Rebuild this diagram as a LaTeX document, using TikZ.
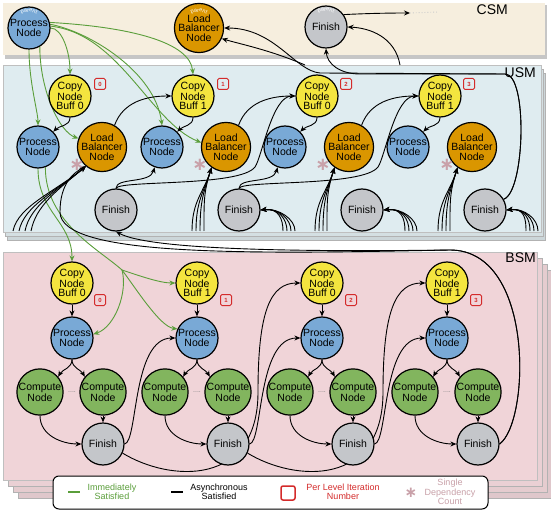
\documentclass[tikz,border=0pt]{standalone}
\usepackage{fontspec}
\setmainfont{Liberation Sans}
\newfontfamily\symbfont{DejaVu Sans}
\usetikzlibrary{positioning,arrows.meta,decorations.text,backgrounds}

\definecolor{procBlue}{HTML}{79A9D6}
\definecolor{lbOrange}{HTML}{DA9600}
\definecolor{copyYellow}{HTML}{F4E53F}
\definecolor{compGreen}{HTML}{82B55E}
\definecolor{finGray}{HTML}{C4C6CA}
\definecolor{csmBg}{HTML}{F6EEDE}
\definecolor{usmBg}{HTML}{DFECF0}
\definecolor{bsmBg}{HTML}{F0D4D8}
\definecolor{lineGreen}{HTML}{5A9E3A}
\definecolor{iterRed}{HTML}{D42B2B}
\definecolor{starPink}{HTML}{C9A1A9}

\newcommand{\depmark}{{\symbfont\bfseries ∗}}

\pgfdeclarelayer{edgelayer}
\pgfsetlayers{background,edgelayer,main}

\begin{document}
\begin{tikzpicture}[
    x=1pt, y=1pt,
    every node/.style={font=\fontsize{10.5}{9.3}\selectfont},
    circ/.style={%
      draw,
      circle,
      line width=1.2pt,
      minimum size=42pt,
      inner sep=0pt,
      align=center,
    },
    proc/.style={circ, fill=procBlue},
    lbal/.style={circ, fill=lbOrange},
    copyb/.style={circ, fill=copyYellow},
    comp/.style={circ, fill=compGreen},
    fin/.style={circ, fill=finGray},
    iter/.style={%
      draw=iterRed,
      text=iterRed,
      line width=1pt,
      rounded corners=1.5pt,
      minimum size=11pt,
      inner sep=0pt,
      font=\fontsize{6}{6}\selectfont\bfseries,
    },
    depstar/.style={text=starPink, inner sep=0pt, font=\fontsize{18}{18}\selectfont},
    cdots/.style={text=gray, inner sep=0pt, font=\fontsize{7}{7}\selectfont},
    band/.style={font=\fontsize{14}{14}\selectfont, anchor=north east, inner sep=0pt},
    legtext/.style={align=center, font=\fontsize{9}{9.5}\selectfont},
    async/.style={draw, line width=0.9pt, -{Stealth[length=6pt,width=5pt]}},
    imm/.style={async, draw=lineGreen},
  ]

    \useasboundingbox (0,0) rectangle (551,512);

    % bands
    \begin{scope}[on background layer]
      \fill [gray!45] (5,453) rectangle (547,507);
      \fill [csmBg] (3,457) rectangle (545,509);
      \filldraw [fill=usmBg!80!gray, draw=gray!60] (7,272) rectangle (545,439);
      \filldraw [fill=usmBg!88!gray, draw=gray!60] (5,276) rectangle (543,443);
      \filldraw [fill=usmBg, draw=gray!50] (3,280) rectangle (541,447);
      \filldraw [fill=bsmBg!85!gray, draw=gray!60] (18,14) rectangle (552,242);
      \filldraw [fill=bsmBg!90!gray, draw=gray!60] (13,20) rectangle (547,248);
      \filldraw [fill=bsmBg!95!gray, draw=gray!60] (8,26) rectangle (542,254);
      \filldraw [fill=bsmBg, draw=gray!50] (3,32) rectangle (537,260);
    \end{scope}

    \node [band] (csmL) at (508,507) {CSM};
    \node [band] (usmL) at (536,444) {USM};
    \node [band] (bsmL) at (536,259) {BSM};

    % CSM
    \node [proc] (cP) at (29,484) {Process\\Node};
    \node [lbal] (cL) at (199,484) {Load\\Balancer\\Node};
    \node [fin] (cF) at (326,485) {Finish};
    \path [decorate, decoration={text along path, text={|\fontsize{5.5}{5.5}\selectfont|parent}, text color=white, text align=center}] (cP) ++(150:16) arc (150:30:16);
    \path [decorate, decoration={text along path, text={|\fontsize{5.5}{5.5}\selectfont|parent}, text color=white, text align=center}] (cL) ++(150:16) arc (150:30:16);
    \path [decorate, decoration={text along path, text={|\fontsize{5.5}{5.5}\selectfont|parent}, text color=white, text align=center}] (cF) ++(150:16) arc (150:30:16);

    % USM
    \node [copyb] (uC0) at (70,416) {Copy\\Node\\Buff 0};
    \path (uC0) ++(-32,-51) node [proc] (uP0) {Process\\Node};
    \path (uC0) ++(32,-51) node [lbal] (uL0) {Load\\Balancer\\Node};
    \path (uL0) ++(14,-63) node [fin] (uF0) {Finish};
    \node [copyb] (uC1) at (193,416) {Copy\\Node\\Buff 1};
    \path (uC1) ++(-31,-51) node [proc] (uP1) {Process\\Node};
    \path (uC1) ++(33,-51) node [lbal] (uL1) {Load\\Balancer\\Node};
    \path (uL1) ++(13,-63) node [fin] (uF1) {Finish};
    \node [copyb] (uC2) at (317,416) {Copy\\Node\\Buff 0};
    \path (uC2) ++(-32,-51) node [proc] (uP2) {Process\\Node};
    \path (uC2) ++(32,-51) node [lbal] (uL2) {Load\\Balancer\\Node};
    \path (uL2) ++(13,-63) node [fin] (uF2) {Finish};
    \node [copyb] (uC3) at (440,416) {Copy\\Node\\Buff 1};
    \path (uC3) ++(-32,-51) node [proc] (uP3) {Process\\Node};
    \path (uC3) ++(32,-51) node [lbal] (uL3) {Load\\Balancer\\Node};
    \path (uL3) ++(13,-63) node [fin] (uF3) {Finish};

    \node [iter] (n0) at (100,428) {0};
    \node [iter] (n1) at (223,428) {1};
    \node [iter] (n2) at (346,428) {2};
    \node [iter] (n3) at (469,428) {3};
    \node [depstar] (s0) at (77,347) {\depmark};
    \node [depstar] (s1) at (200,347) {\depmark};
    \node [depstar] (s2) at (323,347) {\depmark};
    \node [depstar] (s3) at (447,347) {\depmark};

    % BSM
    \node [copyb] (bC0) at (72,229) {Copy\\Node\\Buff 0};
    \path (bC0) ++(0,-55) node [proc] (bP0) {Process\\Node};
    \path (bP0) ++(-32,-54) node [comp] (bA0) {Compute\\Node};
    \path (bP0) ++(31,-54) node [comp] (bB0) {Compute\\Node};
    \path (bB0) ++(0,-52) node [fin] (bF0) {Finish};
    \node [copyb] (bC1) at (197,229) {Copy\\Node\\Buff 1};
    \path (bC1) ++(0,-55) node [proc] (bP1) {Process\\Node};
    \path (bP1) ++(-32,-54) node [comp] (bA1) {Compute\\Node};
    \path (bP1) ++(31,-54) node [comp] (bB1) {Compute\\Node};
    \path (bB1) ++(0,-52) node [fin] (bF1) {Finish};
    \node [copyb] (bC2) at (322,229) {Copy\\Node\\Buff 0};
    \path (bC2) ++(0,-55) node [proc] (bP2) {Process\\Node};
    \path (bP2) ++(-32,-54) node [comp] (bA2) {Compute\\Node};
    \path (bP2) ++(31,-54) node [comp] (bB2) {Compute\\Node};
    \path (bB2) ++(0,-52) node [fin] (bF2) {Finish};
    \node [copyb] (bC3) at (447,229) {Copy\\Node\\Buff 1};
    \path (bC3) ++(0,-55) node [proc] (bP3) {Process\\Node};
    \path (bP3) ++(-32,-54) node [comp] (bA3) {Compute\\Node};
    \path (bP3) ++(31,-54) node [comp] (bB3) {Compute\\Node};
    \path (bB3) ++(0,-52) node [fin] (bF3) {Finish};

    \node [iter] (m0) at (100,212) {0};
    \node [iter] (m1) at (226,212) {1};
    \node [iter] (m2) at (351,212) {2};
    \node [iter] (m3) at (476,212) {3};
    \node [cdots] (d0) at (72,120) {....};
    \node [cdots] (d1) at (197,120) {....};
    \node [cdots] (d2) at (322,120) {....};
    \node [cdots] (d3) at (447,120) {....};

    % free ends
    \coordinate (hA) at (305,447);
    \coordinate (hB) at (400,447);
    \coordinate (cOut) at (410,499);
    \coordinate (br) at (122,242);
    \coordinate (fL0) at (13,281);
    \coordinate (fL1) at (192,281);
    \coordinate (fL2) at (315,281);
    \coordinate (fL3) at (438,281);
    \coordinate (fF1) at (283,281);
    \coordinate (fF2) at (405,281);
    \coordinate (fF3) at (526,281);

    \begin{pgfonlayer}{edgelayer}
    % immediately satisfied
    \draw [imm] (cP.south) .. controls (29,430) and (38,400) .. (uP0.north);
    \draw [imm] (cP.-60) .. controls (40,420) and (60,380) .. (uL0.160);
    \draw [imm] (cP.east) .. controls (62,484) and (70,460) .. (uC0.north);
    \draw [imm] (cP.10) .. controls (90,480) and (155,440) .. (uP1.north);
    \draw [imm] (cP.5) .. controls (120,478) and (150,390) .. (uL1.170);
    \draw [imm] (cP.15) .. controls (130,485) and (190,470) .. (uC1.north);
    \draw [imm] (uP0.south) .. controls (38,300) and (72,290) .. (bC0.north);
    \draw [imm, -] (uP0.-70) .. controls (45,290) and (100,262) .. (br);
    \draw [imm] (br) .. controls (140,236) and (160,229) .. (bC1.west);
    \draw [imm] (br) .. controls (135,225) and (160,185) .. (bP1.155);
    \draw [imm] (br) .. controls (128,220) and (115,185) .. (bP0.10);

    % CSM, asynchronous
    \draw [async] (uF3.30) .. controls (525,320) and (528,438) .. (505,438) -- (360,438) .. controls (340,438) and (327,448) .. (cF.south);
    \draw [async] (uF3.30) .. controls (525,320) and (528,438) .. (505,438) -- (320,439) .. controls (295,441) and (275,484) .. (cL.east);
    \draw [async] (hA) .. controls (270,462) and (240,468) .. (cL.-25);
    \draw [async] (hB) .. controls (395,475) and (370,484) .. (cF.east);
    \draw [async] (cF.35) .. controls (355,498) and (380,499) .. (cOut);
    \draw [gray!40, dotted, line width=0.9pt] (cOut) -- ++(28,1);

    % USM, asynchronous
    \draw [async] (uC0.south) to[out=-90,in=45] (uP0.45);
    \draw [async] (uC1.south) to[out=-90,in=45] (uP1.45);
    \draw [async] (uC2.south) to[out=-90,in=45] (uP2.45);
    \draw [async] (uC3.south) to[out=-90,in=45] (uP3.45);
    \draw [async] (uL0.60) to[out=70,in=180] (uC1.west);
    \draw [async] (uL1.60) to[out=70,in=180] (uC2.west);
    \draw [async] (uL2.60) to[out=70,in=180] (uC3.west);
    \draw [async] (uF0.north) .. controls (116,335) and (150,328) .. (uP1.-110);
    \draw [async] (uF1.north) .. controls (239,335) and (273,328) .. (uP2.-110);
    \draw [async] (uF0.north) .. controls (118,332) and (240,325) .. (255,345) .. controls (262,355) and (272,416) .. (uC2.west);
    \draw [async] (uF1.north) .. controls (241,332) and (363,325) .. (378,345) .. controls (385,355) and (395,416) .. (uC3.west);
    \foreach \s in {0,6,12,18}
      \draw [async] ([xshift=\s]fL0) .. controls +(5,25) and +(-30,-25) .. (uL0.-130);
    \foreach \s in {0,4,8,12} {
      \draw [async] ([xshift=\s]fL1) .. controls +(0,30) and +(-8,-25) .. (uL1.-125);
      \draw [async] ([xshift=\s]fL2) .. controls +(0,30) and +(-8,-25) .. (uL2.-125);
      \draw [async] ([xshift=\s]fL3) .. controls +(0,30) and +(-8,-25) .. (uL3.-125);
      \draw [async] ([xshift=\s]fF1) .. controls +(0,12) and +(18,2) .. (uF1.east);
      \draw [async] ([xshift=\s]fF2) .. controls +(0,12) and +(18,2) .. (uF2.east);
      \draw [async] ([xshift=\s]fF3) .. controls +(0,12) and +(18,2) .. (uF3.east);
    }
    \draw [async] (bF3.east) .. controls (530,90) and (535,262) .. (450,262) .. controls (300,260) and (150,262) .. (uF0.south);
    \draw [async] (bF3.east) .. controls (530,90) and (535,262) .. (450,262) .. controls (250,258) and (60,255) .. (60,300) .. controls (60,330) and (75,340) .. (uL0.-130);

    % BSM, asynchronous
    \draw [async] (bC0) -- (bP0);
    \draw [async] (bC1) -- (bP1);
    \draw [async] (bC2) -- (bP2);
    \draw [async] (bC3) -- (bP3);
    \draw [async] (bP0.south) to[out=-90,in=60] (bA0.40);
    \draw [async] (bP0.south) to[out=-90,in=120] (bB0.140);
    \draw [async] (bP1.south) to[out=-90,in=60] (bA1.40);
    \draw [async] (bP1.south) to[out=-90,in=120] (bB1.140);
    \draw [async] (bP2.south) to[out=-90,in=60] (bA2.40);
    \draw [async] (bP2.south) to[out=-90,in=120] (bB2.140);
    \draw [async] (bP3.south) to[out=-90,in=60] (bA3.40);
    \draw [async] (bP3.south) to[out=-90,in=120] (bB3.140);
    \draw [async] (bB0) -- (bF0);
    \draw [async] (bB1) -- (bF1);
    \draw [async] (bB2) -- (bF2);
    \draw [async] (bB3) -- (bF3);
    \draw [async] (bA0.south) to[out=-90,in=180] (bF0.west);
    \draw [async] (bA1.south) to[out=-90,in=180] (bF1.west);
    \draw [async] (bA2.south) to[out=-90,in=180] (bF2.west);
    \draw [async] (bA3.south) to[out=-90,in=180] (bF3.west);
    \draw [async] (bF0.east) .. controls (138,70) and (132,174) .. (bP1.west);
    \draw [async] (bF1.east) .. controls (263,70) and (257,174) .. (bP2.west);
    \draw [async] (bF2.east) .. controls (388,70) and (382,174) .. (bP3.west);
    \draw [async] (bF0.-25) .. controls (170,30) and (258,25) .. (258,120) .. controls (258,200) and (270,229) .. (bC2.west);
    \draw [async] (bF1.-25) .. controls (295,30) and (383,25) .. (383,120) .. controls (383,200) and (395,229) .. (bC3.west);
    \end{pgfonlayer}

    % legend
    \node [draw, rounded corners=6pt, line width=1pt, fill=white, minimum width=435pt, minimum height=33pt] (legend) at (270.5,19.5) {};
    \draw [lineGreen, line width=1.3pt] (68,20) -- (80,20);
    \node [legtext, text=lineGreen] (lg1) at (112,20) {Immediately\\Satisfied};
    \draw [line width=1.3pt] (171,20) -- (183,20);
    \node [legtext] (lg2) at (219,20) {Asynchronous\\Satisfied};
    \node [draw=iterRed, line width=1.5pt, rounded corners=2pt, minimum size=14pt] (lg3) at (288,19) {};
    \node [legtext, text=iterRed] (lg4) at (343,20) {Per Level Iteration\\Number};
    \node [depstar, font=\fontsize{15}{15}\selectfont] (lg5) at (411,19) {\depmark};
    \node [legtext, text=starPink] (lg6) at (450,20) {Single\\Dependency\\Count};
\end{tikzpicture}
\end{document}
